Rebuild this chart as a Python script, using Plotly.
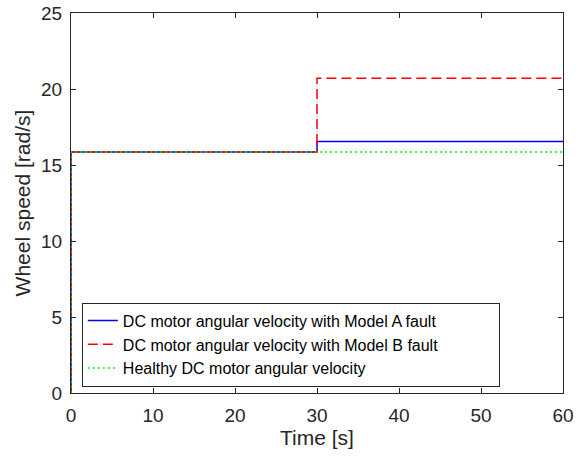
import plotly.graph_objects as go

time_s = [0, 0, 30, 30, 60]
model_a = [0, 15.85, 15.85, 16.55, 16.55]
model_b = [0, 15.85, 15.85, 20.7, 20.7]
healthy = [0, 15.85, 15.85, 15.85, 15.85]

names = [
    "DC motor angular velocity with Model A fault",
    "DC motor angular velocity with Model B fault",
    "Healthy DC motor angular velocity",
]
pad = "\u00a0" * 13

fig = go.Figure()
fig.add_trace(go.Scatter(x=time_s, y=model_a, mode="lines", name=names[0] + pad,
                         line=dict(color="#0000ff", width=1.5)))
fig.add_trace(go.Scatter(x=time_s, y=model_b, mode="lines", name=names[1],
                         line=dict(color="#ff0000", width=1.5, dash="10px,5px")))
fig.add_trace(go.Scatter(x=time_s, y=healthy, mode="lines", name=names[2],
                         line=dict(color="#00ee00", width=1.5, dash="2px,3px")))

axis_common = dict(
    showline=True, linecolor="#262626", linewidth=1, mirror="ticks",
    ticks="inside", ticklen=5, tickcolor="#262626", tickwidth=1,
    showgrid=False, zeroline=False, automargin=False,
    tickfont=dict(family="Liberation Sans, Arial, sans-serif", size=19, color="#262626"),
)

fig.update_layout(
    width=585, height=458,
    margin=dict(l=71, r=22, t=13, b=65),
    paper_bgcolor="white", plot_bgcolor="white",
    font=dict(family="Liberation Sans, Arial, sans-serif", color="#262626"),
    xaxis=dict(range=[0, 60], dtick=10, tick0=0,
               title=dict(text="Time [s]", font=dict(size=21), standoff=4),
               ticklabelstandoff=5, **axis_common),
    yaxis=dict(range=[0, 25], dtick=5, tick0=0,
               title=dict(text="Wheel speed [rad/s]", font=dict(size=21), standoff=4),
               ticklabelstandoff=4, **axis_common),
    legend=dict(x=0.022, y=0.238, xanchor="left", yanchor="top",
                bordercolor="#262626", borderwidth=1, bgcolor="white",
                font=dict(size=16, color="#000000"), tracegroupgap=0),
    showlegend=True,
)

fig.write_html("out.html")
